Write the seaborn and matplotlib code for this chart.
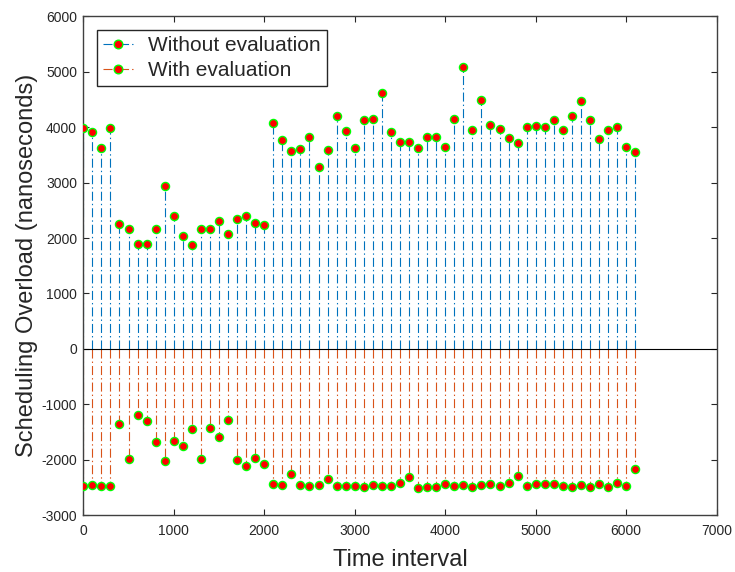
import numpy as np
import pandas as pd
import matplotlib
matplotlib.use("Agg")
import matplotlib.pyplot as plt
from matplotlib.lines import Line2D
from matplotlib.legend_handler import HandlerLine2D
import seaborn as sns

# Sampling instants (time interval index)
time_points = [0, 100, 200, 300, 400, 500, 600, 700, 800, 900,
               1000, 1100, 1200, 1300, 1400, 1500, 1600, 1700, 1800, 1900,
               2000, 2100, 2200, 2300, 2400, 2500, 2600, 2700, 2800, 2900,
               3000, 3100, 3200, 3300, 3400, 3500, 3600, 3700, 3800, 3900,
               4000, 4100, 4200, 4300, 4400, 4500, 4600, 4700, 4800, 4900,
               5000, 5100, 5200, 5300, 5400, 5500, 5600, 5700, 5800, 5900,
               6000, 6100]

# Scheduling overload without evaluation (ns)
without_eval = [3990, 3910, 3620, 3990, 2260, 2160, 1900, 1900, 2170, 2940,
                2400, 2030, 1870, 2160, 2170, 2310, 2070, 2350, 2390, 2270,
                2230, 4080, 3760, 3560, 3600, 3820, 3280, 3590, 4190, 3920,
                3630, 4130, 4140, 4610, 3910, 3730, 3730, 3630, 3820, 3820,
                3640, 4140, 5080, 3940, 4480, 4030, 3960, 3810, 3720, 4000,
                4010, 4000, 4120, 3940, 4200, 4470, 4130, 3780, 3950, 4000,
                3640, 3550]

# Scheduling overload with evaluation (ns, plotted below the baseline)
with_eval = [-2470, -2450, -2470, -2470, -1360, -1990, -1190, -1300, -1670, -2020,
             -1660, -1750, -1440, -1980, -1420, -1590, -1280, -2000, -2100, -1960,
             -2080, -2440, -2450, -2260, -2450, -2470, -2450, -2350, -2470, -2470,
             -2470, -2480, -2450, -2460, -2470, -2410, -2300, -2500, -2480, -2480,
             -2430, -2470, -2450, -2480, -2450, -2440, -2470, -2420, -2290, -2470,
             -2440, -2440, -2440, -2470, -2480, -2450, -2480, -2440, -2480, -2420,
             -2470, -2160]

series_names = ["Without evaluation", "With evaluation"]
x_ticks = [0, 1000, 2000, 3000, 4000, 5000, 6000, 7000]
y_ticks = [-3000, -2000, -1000, 0, 1000, 2000, 3000, 4000, 5000, 6000]

BLUE = "#0072BD"
ORANGE = "#D95319"
AXIS_GRAY = "#262626"
STEM_DASH = (0, (6.5, 2.2, 1.0, 2.2))

sns.set_theme(style="ticks")
plt.rcParams["font.family"] = ["Liberation Sans", "DejaVu Sans"]
plt.rcParams["lines.scale_dashes"] = False

df = pd.DataFrame({
    "time": time_points * 2,
    "overload": without_eval + with_eval,
    "series": [series_names[0]] * len(time_points) + [series_names[1]] * len(time_points),
})

fig = plt.figure(figsize=(7.35, 5.72), dpi=100)
ax = fig.add_axes([0.1133, 0.0988, 0.8618, 0.8732])

# stems from the zero baseline
for name, color in zip(series_names, [BLUE, ORANGE]):
    sub = df[df["series"] == name]
    ax.vlines(sub["time"], 0, sub["overload"], colors=color,
              linestyles=[STEM_DASH], linewidth=0.8, zorder=2)

ax.axhline(0, color="black", linewidth=0.8, zorder=2.5)

# stem heads
sns.scatterplot(data=df, x="time", y="overload", ax=ax, color="red",
                edgecolor="#00ff00", linewidth=1.0, s=34, legend=False, zorder=3)

ax.set_xlim(0, 7000)
ax.set_ylim(-3000, 6000)
ax.set_xticks(x_ticks)
ax.set_yticks(y_ticks)
ax.set_xticklabels([str(t) for t in x_ticks])
ax.set_yticklabels([str(t) for t in y_ticks])

ax.tick_params(direction="in", length=4.5, width=0.8, colors=AXIS_GRAY,
               labelsize=10, top=True, right=True, labelcolor=AXIS_GRAY)
ax.tick_params(axis="y", pad=4.5)
ax.tick_params(axis="x", pad=6)
for side in ["left", "right", "top", "bottom"]:
    ax.spines[side].set_visible(True)
    ax.spines[side].set_color("#404040")
    ax.spines[side].set_linewidth(1.0)

ax.set_xlabel("Time interval", fontsize=17, color=AXIS_GRAY, labelpad=8)
ax.set_ylabel("Scheduling Overload (nanoseconds)", fontsize=17,
              color=AXIS_GRAY, labelpad=2)


class StemLegendHandler(HandlerLine2D):
    """Legend icon with the marker drawn at the right end of the line."""

    def get_xdata(self, legend, xdescent, ydescent, width, height, fontsize):
        xdata, _ = super().get_xdata(legend, xdescent, ydescent, width, height, fontsize)
        return xdata, np.array([xdata[-1]])


handles = [
    Line2D([], [], color=c, linestyle=STEM_DASH, linewidth=0.8, marker="o",
           markerfacecolor="red", markeredgecolor="#00ff00",
           markersize=6.2, markeredgewidth=1.0)
    for c in [BLUE, ORANGE]
]
leg = ax.legend(handles, series_names, loc="upper left", fontsize=15,
                handler_map={Line2D: StemLegendHandler(numpoints=1)},
                handlelength=1.45, handletextpad=0.7, borderaxespad=0.65,
                borderpad=0.3, labelspacing=0.3, fancybox=False,
                framealpha=1.0, edgecolor="#262626")
leg.get_frame().set_linewidth(1.0)

fig.savefig("out.png", dpi=100, facecolor="white")
